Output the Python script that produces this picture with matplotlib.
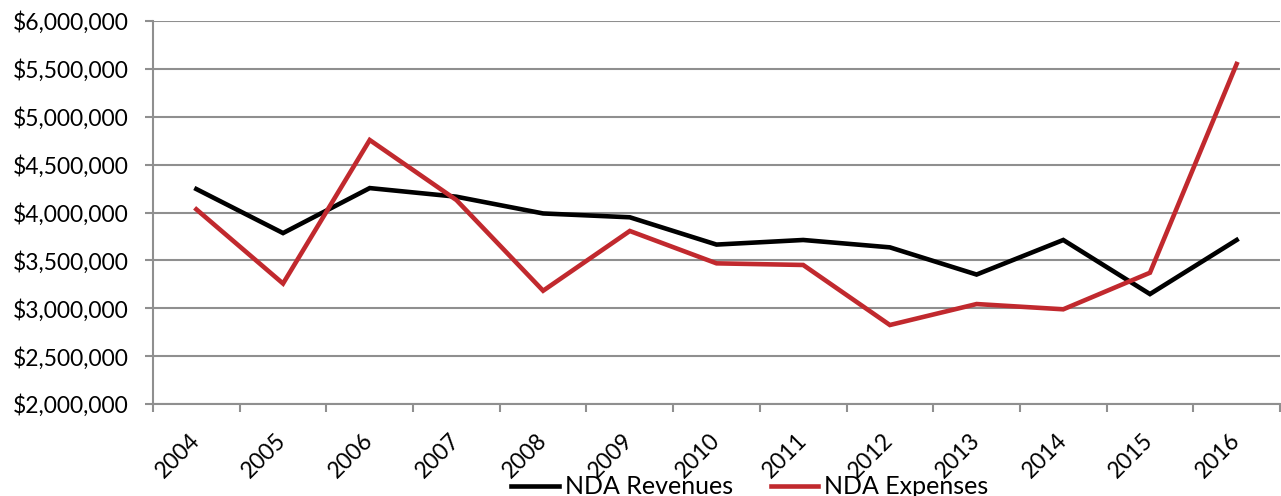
import matplotlib
matplotlib.use("Agg")
import matplotlib.pyplot as plt
from matplotlib.ticker import FuncFormatter, MultipleLocator, FixedLocator

years = ["2004", "2005", "2006", "2007", "2008", "2009", "2010",
         "2011", "2012", "2013", "2014", "2015", "2016"]
revenues = [4245000, 3785000, 4255000, 4165000, 3990000, 3950000, 3665000,
            3713000, 3636000, 3352000, 3713000, 3148000, 3713000]
expenses = [4033000, 3258000, 4757000, 4130000, 3183000, 3807000, 3469000,
            3452000, 2825000, 3044000, 2989000, 3371000, 5551000]

plt.rcParams['font.family'] = ['Lato', 'DejaVu Sans']

W, H = 1281, 496
fig = plt.figure(figsize=(W / 100, H / 100), dpi=100)
ax = fig.add_axes([153 / W, 1 - 404 / H, (1280 - 153) / W, (404 - 21) / H])

x = list(range(len(years)))
ax.plot(x, revenues, color="#000000", lw=3.3, label="NDA Revenues", solid_joinstyle='miter')
ax.plot(x, expenses, color="#C1292E", lw=3.3, label="NDA Expenses", solid_joinstyle='miter')

ax.set_ylim(2000000, 6000000)
ax.set_xlim(-0.5, len(years) - 0.5)
ax.yaxis.set_major_locator(MultipleLocator(500000))
ax.yaxis.set_major_formatter(FuncFormatter(lambda v, p: "${:,.0f}".format(v)))
ax.grid(axis='y', color="#8f8f8f", lw=1.5)
ax.set_axisbelow(True)

ax.set_xticks(x)
ax.set_xticklabels(years, rotation=45, ha='right', va='center', rotation_mode='anchor')
ax.xaxis.set_minor_locator(FixedLocator([i - 0.5 for i in range(len(years) + 1)]))
ax.tick_params(axis='x', which='major', length=0, pad=24, labelsize=16.5)
ax.tick_params(axis='x', which='minor', length=5.5, width=1.5, color="#8f8f8f", direction='out')
ax.tick_params(axis='y', length=5.5, width=1.5, color="#8f8f8f", labelsize=16.5, pad=12)

for s in ['top', 'right']:
    ax.spines[s].set_visible(False)
for s in ['left', 'bottom']:
    ax.spines[s].set_color("#8f8f8f")
    ax.spines[s].set_linewidth(1.5)

fig.legend(loc='center', bbox_to_anchor=(750 / W, 1 - 487 / H), ncol=2, frameon=False,
           fontsize=18, handlelength=1.9, columnspacing=1.5, handletextpad=0.25,
           borderpad=0, borderaxespad=0)

fig.savefig("out.png", dpi=100)
